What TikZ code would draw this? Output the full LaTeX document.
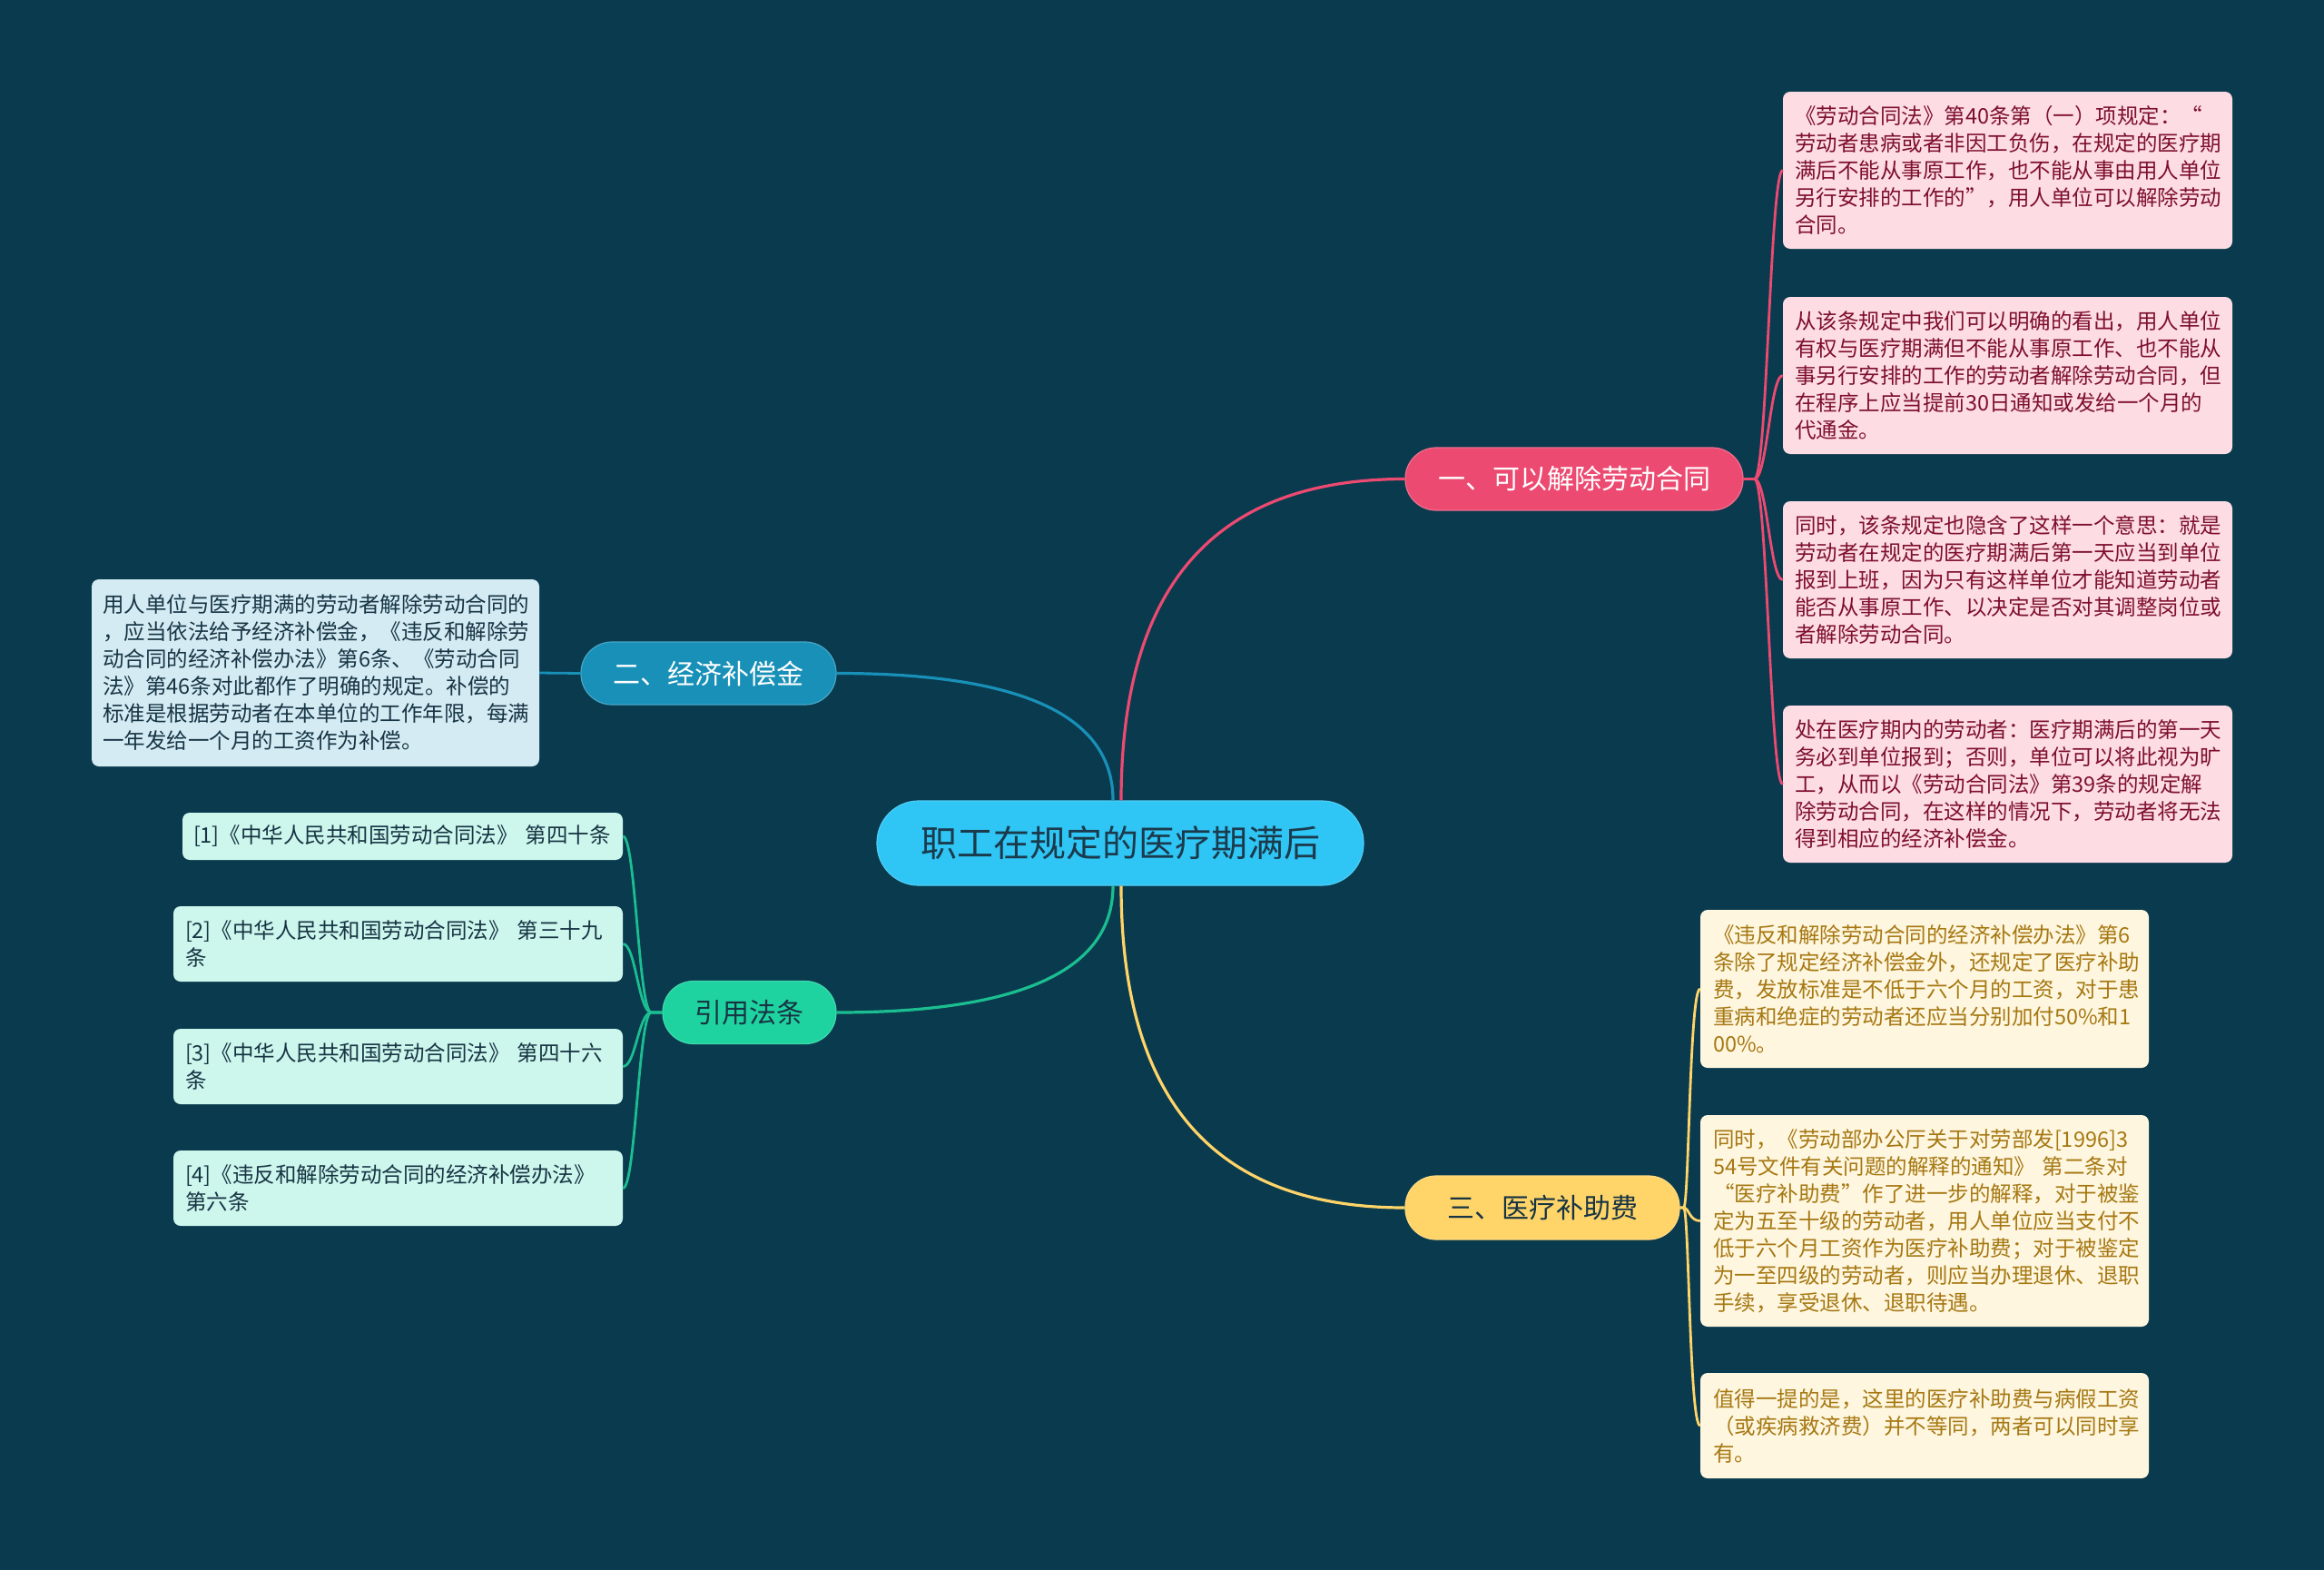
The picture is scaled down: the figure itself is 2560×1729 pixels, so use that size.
\documentclass[tikz,border=0pt]{standalone}
\usepackage{fontspec}
\setmainfont{Noto Sans CJK SC}
\definecolor{bg}{HTML}{0A3A4E}
\definecolor{rootfill}{HTML}{2FC5F4}
\definecolor{roottext}{HTML}{1B3A4C}
\definecolor{pinkb}{HTML}{EC4A71}
\definecolor{blueb}{HTML}{1890B8}
\definecolor{greenb}{HTML}{1ED3A0}
\definecolor{yellowb}{HTML}{FFD468}
\definecolor{pinkleaf}{HTML}{FDDDE3}
\definecolor{pinktext}{HTML}{7E0F2E}
\definecolor{yellowleaf}{HTML}{FEF6DF}
\definecolor{yellowtext}{HTML}{A67812}
\definecolor{blueleaf}{HTML}{D4EBF3}
\definecolor{greenleaf}{HTML}{CDF6EC}
\definecolor{darktext}{HTML}{173444}
\begin{document}
\begin{tikzpicture}[x=1pt,y=-1pt,
  rootbox/.style={fill=rootfill, draw=rootfill!85!white, line width=1.2pt, rounded corners=46pt, minimum width=536pt, minimum height=93pt, inner sep=0pt, text=roottext, font=\fontsize{40pt}{48pt}\selectfont},
  branch/.style={rounded corners=34pt, minimum height=69pt, inner sep=0pt, line width=1.2pt, font=\fontsize{30pt}{36pt}\selectfont},
  leaf/.style={rounded corners=8pt, inner ysep=0pt, align=left, font=\fontsize{23.5pt}{30pt}\selectfont},
  pinkleafbox/.style={leaf, fill=pinkleaf, text=pinktext, inner xsep=13pt, text width=469pt},
  yellowleafbox/.style={leaf, fill=yellowleaf, text=yellowtext, inner xsep=14pt, text width=466pt},
  blueleafbox/.style={leaf, fill=blueleaf, text=darktext, inner xsep=12pt, text width=469pt},
  greenleafbox/.style={leaf, fill=greenleaf, text=darktext, inner xsep=13pt, text width=469pt},
  mainline/.style={line width=3.2pt},
  subline/.style={line width=2.8pt}
]
\path[use as bounding box, fill=bg] (0,0) rectangle (2560,1729);

% root and branches
\node[rootbox] (root) at (1234,928.5) {职工在规定的医疗期满后};
\node[branch, fill=pinkb, draw=pinkb!80!white, text=white, minimum width=372pt] (b1) at (1734,527.5) {一、可以解除劳动合同};
\node[branch, fill=blueb, draw=blueb!80!white, text=white, minimum width=281pt] (b2) at (780.5,741.5) {二、经济补偿金};
\node[branch, fill=greenb, draw=greenb!85!white, text=darktext, minimum width=191pt] (b4) at (825.5,1115) {引用法条};
\node[branch, fill=yellowb, draw=yellowb!85!white, text=darktext, minimum width=302pt, minimum height=70pt] (b3) at (1699,1330) {三、医疗补助费};

% pink leaves
\node[pinkleafbox, minimum height=173pt] (p1) at (2211.5,187.5) {《劳动合同法》第40条第（一）项规定：“\\劳动者患病或者非因工负伤，在规定的医疗期\\满后不能从事原工作，也不能从事由用人单位\\另行安排的工作的”，用人单位可以解除劳动\\合同。};
\node[pinkleafbox, minimum height=173pt] (p2) at (2211.5,413.5) {从该条规定中我们可以明确的看出，用人单位\\有权与医疗期满但不能从事原工作、也不能从\\事另行安排的工作的劳动者解除劳动合同，但\\在程序上应当提前30日通知或发给一个月的\\代通金。};
\node[pinkleafbox, minimum height=173pt] (p3) at (2211.5,638.5) {同时，该条规定也隐含了这样一个意思：就是\\劳动者在规定的医疗期满后第一天应当到单位\\报到上班，因为只有这样单位才能知道劳动者\\能否从事原工作、以决定是否对其调整岗位或\\者解除劳动合同。};
\node[pinkleafbox, minimum height=173pt] (p4) at (2211.5,863.5) {处在医疗期内的劳动者：医疗期满后的第一天\\务必到单位报到；否则，单位可以将此视为旷\\工，从而以《劳动合同法》第39条的规定解\\除劳动合同，在这样的情况下，劳动者将无法\\得到相应的经济补偿金。};

% yellow leaves
\node[yellowleafbox, minimum height=174pt] (y1) at (2120,1089) {《违反和解除劳动合同的经济补偿办法》第6\\条除了规定经济补偿金外，还规定了医疗补助\\费，发放标准是不低于六个月的工资，对于患\\重病和绝症的劳动者还应当分别加付50\%和1\\00\%。};
\node[yellowleafbox, minimum height=233pt] (y2) at (2120,1344.5) {同时，《劳动部办公厅关于对劳部发[1996]3\\54号文件有关问题的解释的通知》~第二条对\\“医疗补助费”作了进一步的解释，对于被鉴\\定为五至十级的劳动者，用人单位应当支付不\\低于六个月工资作为医疗补助费；对于被鉴定\\为一至四级的劳动者，则应当办理退休、退职\\手续，享受退休、退职待遇。};
\node[yellowleafbox, minimum height=116pt] (y3) at (2120,1570) {值得一提的是，这里的医疗补助费与病假工资\\（或疾病救济费）并不等同，两者可以同时享\\有。};

% blue leaf
\node[blueleafbox, minimum height=206pt] (e1) at (347.5,741) {用人单位与医疗期满的劳动者解除劳动合同的\\，应当依法给予经济补偿金，《违反和解除劳\\动合同的经济补偿办法》第6条、《劳动合同\\法》第46条对此都作了明确的规定。补偿的\\标准是根据劳动者在本单位的工作年限，每满\\一年发给一个月的工资作为补偿。};

% green leaves
\node[greenleafbox, inner xsep=12pt, text width=461pt, minimum height=52pt] (g1) at (443.5,921) {[1]《中华人民共和国劳动合同法》~第四十条};
\node[greenleafbox, minimum height=83pt] (g2) at (438.5,1039.5) {[2]《中华人民共和国劳动合同法》~第三十九\\条};
\node[greenleafbox, minimum height=83pt] (g3) at (438.5,1174.5) {[3]《中华人民共和国劳动合同法》~第四十六\\条};
\node[greenleafbox, minimum height=83pt] (g4) at (438.5,1308.5) {[4]《违反和解除劳动合同的经济补偿办法》\\第六条};

% main connectors
\draw[mainline, draw=pinkb] ([xshift=1pt]root.north) .. controls +(0,-237) and +(-209,0) .. (b1.west);
\draw[mainline, draw=blueb] ([xshift=-8pt]root.north) .. controls +(0,-94) and +(203,0) .. (b2.east);
\draw[mainline, draw=greenb!90!black] ([xshift=-8pt]root.south) .. controls +(0,93) and +(203,0) .. (b4.east);
\draw[mainline, draw=yellowb] ([xshift=1pt]root.south) .. controls +(0,237) and +(-209,0) .. (b3.west);

% sub connectors (short stub, then bracket curve)
\foreach \n in {p1,p2,p3,p4}
  \draw[subline, draw=pinkb] (b1.east) -- ++(12,0) .. controls +(14,0) and +(-14,0) .. (\n.west);
\foreach \n in {y1,y2,y3}
  \draw[subline, draw=yellowb] (b3.east) -- ++(4,0) .. controls +(6,0) and +(-12,0) .. (\n.west);
\foreach \n in {g1,g2,g3,g4}
  \draw[subline, draw=greenb!90!black] (b4.west) -- ++(-12,0) .. controls +(-14,0) and +(14,0) .. (\n.east);
\draw[subline, draw=blueb] (b2.west) -- (e1.east);
\end{tikzpicture}
\end{document}
